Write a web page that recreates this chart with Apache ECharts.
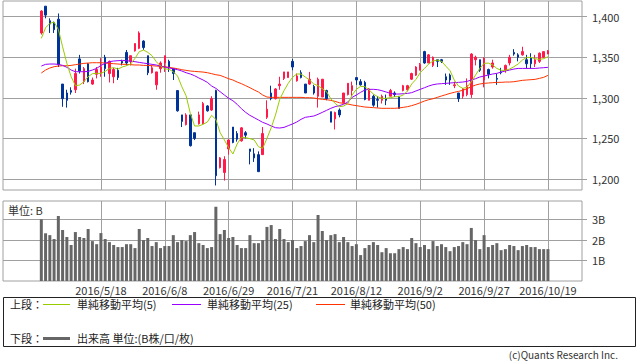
<!DOCTYPE html>
<html><head><meta charset="utf-8">
<script src="https://cdn.jsdelivr.net/npm/echarts/dist/echarts.min.js"></script>
<style>html,body{margin:0;padding:0;background:#fff}#c{width:638px;height:362px}</style>
</head><body><div id="c"></div>
<script>
const dates = ['2016/4/22','2016/4/25','2016/4/26','2016/4/27','2016/4/28',
'2016/5/2','2016/5/6','2016/5/9','2016/5/10','2016/5/11','2016/5/12','2016/5/13','2016/5/16','2016/5/17','2016/5/18','2016/5/19','2016/5/20','2016/5/23','2016/5/24','2016/5/25','2016/5/26','2016/5/27','2016/5/30','2016/5/31',
'2016/6/1','2016/6/2','2016/6/3','2016/6/6','2016/6/7','2016/6/8','2016/6/9','2016/6/10','2016/6/13','2016/6/14','2016/6/15','2016/6/16','2016/6/17','2016/6/20','2016/6/21','2016/6/22','2016/6/23','2016/6/24','2016/6/27','2016/6/28','2016/6/29','2016/6/30',
'2016/7/1','2016/7/4','2016/7/5','2016/7/6','2016/7/7','2016/7/8','2016/7/11','2016/7/12','2016/7/13','2016/7/14','2016/7/15','2016/7/19','2016/7/20','2016/7/21','2016/7/22','2016/7/25','2016/7/26','2016/7/27','2016/7/28','2016/7/29',
'2016/8/1','2016/8/2','2016/8/3','2016/8/4','2016/8/5','2016/8/8','2016/8/9','2016/8/10','2016/8/12','2016/8/15','2016/8/16','2016/8/17','2016/8/18','2016/8/19','2016/8/22','2016/8/23','2016/8/24','2016/8/25','2016/8/26','2016/8/29','2016/8/30','2016/8/31',
'2016/9/1','2016/9/2','2016/9/5','2016/9/6','2016/9/7','2016/9/8','2016/9/9','2016/9/12','2016/9/13','2016/9/14','2016/9/15','2016/9/16','2016/9/20','2016/9/21','2016/9/23','2016/9/26','2016/9/27','2016/9/28','2016/9/29','2016/9/30',
'2016/10/3','2016/10/4','2016/10/5','2016/10/6','2016/10/7','2016/10/11','2016/10/12','2016/10/13','2016/10/14','2016/10/17','2016/10/18','2016/10/19'];

const open = [1380,1413,1395,1393,1397,1317,1306,1309,1310,1348,1320,1342,1317,1329,1331,1350,1330,1326,1334,1345,
1356,1345,1358,1361,1370,1352,1331,1316,1336,1343,1345,1336,1309,1279,1267,1279,1257,1268,1268,1290,
1285,1309,1214,1208,1237,1264,1256,1247,1257,1237,1231,1230,1230,1276,1306,1299,1315,1324,1325,1345,
1321,1331,1317,1317,1314,1302,1301,1309,1283,1274,1285,1294,1304,1309,1325,1320,1319,1297,1302,1298,
1297,1299,1302,1306,1302,1309,1310,1323,1328,1334,1357,1343,1340,1347,1347,1326,1328,1315,1306,1302,
1304,1304,1347,1347,1322,1335,1338,1324,1332,1334,1343,1356,1353,1353,1347,1349,1342,1345,1350,1354];
const close = [1407,1402,1391,1384,1341,1299,1297,1307,1330,1333,1336,1320,1322,1335,1338,1336,1345,1335,1325,1343,
1343,1352,1367,1380,1362,1331,1337,1332,1343,1352,1338,1330,1284,1271,1279,1241,1250,1279,1293,1284,
1299,1204,1226,1224,1248,1245,1249,1263,1254,1234,1226,1209,1256,1286,1299,1311,1317,1332,1332,1338,
1327,1325,1306,1323,1306,1323,1323,1299,1270,1282,1279,1306,1318,1315,1322,1316,1298,1311,1291,1297,
1302,1297,1309,1304,1287,1315,1315,1330,1338,1341,1343,1353,1350,1345,1345,1322,1322,1316,1299,1311,
1315,1354,1350,1334,1349,1329,1343,1323,1331,1340,1350,1354,1350,1357,1342,1342,1347,1355,1357,1358];
const low = [1378,1398,1380,1380,1338,1289,1288,1304,1306,1330,1317,1319,1316,1324,1326,1326,1319,1318,1322,1340,
1340,1340,1357,1360,1359,1328,1330,1310,1331,1332,1332,1322,1283,1264,1266,1240,1248,1267,1267,1283,
1284,1192,1213,1198,1230,1244,1246,1246,1250,1218,1221,1209,1230,1274,1297,1298,1310,1322,1325,1334,
1320,1324,1306,1316,1304,1288,1301,1297,1270,1261,1276,1293,1303,1302,1316,1315,1297,1297,1289,1288,
1293,1291,1302,1301,1287,1308,1308,1322,1327,1334,1342,1343,1338,1338,1343,1316,1316,1312,1295,1299,
1302,1300,1340,1332,1313,1324,1336,1316,1329,1331,1340,1352,1345,1352,1336,1336,1338,1343,1349,1354];
const high = [1408,1413,1398,1394,1404,1317,1310,1313,1336,1353,1338,1343,1325,1338,1349,1353,1346,1337,1337,1347,
1359,1352,1367,1382,1371,1352,1340,1332,1345,1352,1347,1336,1309,1279,1281,1279,1257,1283,1295,1291,
1302,1310,1227,1228,1249,1264,1259,1264,1259,1237,1238,1234,1264,1297,1315,1312,1326,1332,1332,1348,
1330,1334,1317,1332,1316,1325,1323,1310,1283,1283,1287,1306,1318,1320,1325,1323,1321,1312,1304,1302,
1304,1304,1311,1308,1302,1316,1316,1331,1339,1343,1358,1354,1351,1347,1348,1330,1330,1320,1306,1312,
1324,1355,1352,1347,1350,1336,1347,1330,1337,1341,1353,1360,1355,1363,1353,1355,1353,1356,1357,1359];

const ma5 = [1373.3,1386.4,1391.8,1393.4,1384.4,1363,1342.5,1326.1,1315,1315.8,1319.9,1326.1,1329.8,1330.2,1330.2,1332.6,1336.3,1337.2,1335.5,1338,
1339.6,1341.7,1348.7,1356.9,1358.9,1356.1,1352,1344.6,1339.2,1335.9,1335.1,1332.2,1326.9,1313.8,1302.7,1280.9,1265.3,1265.3,1267.4,1270.2,
1278.4,1273.5,1257.1,1248.1,1238.6,1230.8,1243.1,1251.3,1250.9,1249.7,1248.1,1239.8,1237.8,1250.1,1263.2,1278.8,1298.1,1308.8,1317.9,1325.3,
1329.4,1329.4,1325.7,1322,1317.1,1315,1311.3,1307.6,1299,1293.2,1289.1,1289.9,1292.8,1303.5,1310.5,1314.2,1313.8,1309.7,1304.7,1301.4,
1299.4,1299.4,1300.2,1301.4,1301.4,1303.5,1308.4,1317.1,1322.8,1331,1336.3,1341.7,1345.4,1346.6,1345,1339.2,1333.5,1322,1314.6,1311.7,
1313,1319.9,1328.1,1336.3,1342.5,1342.9,1340.5,1336.3,1333.9,1333.9,1335.5,1338.4,1341.7,1346.6,1349.9,1349.9,1348.3,1347.4,1348.3,1350.7];
const ma25 = [1339.2,1341.3,1341.7,1341.7,1341.3,1340,1337.6,1334.3,1332.2,1332.2,1332.2,1332.6,1334.3,1336.3,1340,1342.5,1344.6,1345.4,1345.8,1346.2,
1345.8,1345.2,1344.6,1343.7,1342.9,1342.1,1341.3,1340.5,1339.2,1338,1336.8,1335.9,1334.7,1333.1,1331,1329.4,1327.3,1324.5,1322,1319.1,
1314.6,1311.7,1307.6,1303.5,1299.5,1296.5,1292,1286.6,1282.1,1278.4,1275.6,1272.7,1269.8,1267.8,1265.3,1263.2,1262.8,1263.6,1265.7,1267.8,
1270.2,1273.5,1276,1276.8,1277.6,1279.7,1282.1,1284.6,1287.1,1289.1,1290.4,1292,1294.9,1300.6,1303.5,1306.8,1309.7,1310.5,1310.5,1310.1,
1308.8,1307.2,1305.5,1304.7,1304.7,1305.1,1305.5,1306.4,1308.5,1310.5,1312.5,1314.6,1316.2,1317.1,1317.5,1317.9,1318.3,1318.7,1319.1,1319.5,
1320.3,1322,1323.6,1325.7,1326.9,1328.1,1329.4,1330.2,1331.8,1333.1,1334.3,1335.5,1336.3,1336.3,1336.3,1336.3,1336.3,1336.8,1337.2,1337.6];
const ma50 = [1330.6,1334.3,1336.8,1338.4,1339.2,1339.6,1339.6,1340,1340.9,1341.7,1342.5,1342.9,1343.3,1343.3,1343.3,1342.9,1342.5,1342.1,1341.7,1341.3,
1341.3,1340.9,1340.5,1340.5,1340,1340,1339.6,1339.2,1338.8,1338.4,1337.6,1336.8,1335.9,1334.7,1333.9,1333.1,1332.6,1332.2,1331.8,1331,
1329.8,1328.5,1327.7,1325.7,1323.6,1322,1319.5,1317.5,1315,1312.5,1309.7,1307.2,1303.5,1301,1300.6,1300.6,1300.6,1300.6,1300.6,1300.6,
1300.6,1300.6,1300.2,1300.2,1299.8,1298.9,1298.2,1297.7,1296.9,1295.7,1294,1293.2,1292.4,1291.2,1290.4,1289.5,1288.7,1288.3,1287.9,1287.5,
1287.1,1287.1,1287.1,1287.1,1287.5,1288.3,1289.1,1290.4,1292,1294,1296.1,1297.7,1298.9,1300.6,1302.3,1303.9,1305.5,1306.8,1308,1309.3,
1311.3,1313.8,1315.8,1317.1,1317.9,1318.3,1318.7,1319.1,1319.1,1319.5,1319.5,1319.9,1320.7,1321.6,1322,1322.4,1322.8,1324,1325.3,1327.7];

const volume = [3.0,2.32,2.23,2.04,3.16,2.48,2.14,1.75,2.38,2.14,2.09,2.53,1.94,1.79,2.33,2.04,1.89,1.75,1.65,1.65,
1.79,1.79,1.60,2.53,1.99,2.09,1.70,1.89,1.60,1.70,1.70,2.23,1.89,1.99,1.94,2.23,2.38,1.84,1.75,1.60,
1.65,3.61,2.28,2.48,2.09,2.14,1.75,1.60,1.60,2.23,1.84,1.84,1.99,2.63,2.72,2.04,2.53,2.04,1.89,1.99,
1.60,1.70,1.94,2.23,1.89,3.21,2.43,1.99,2.23,2.28,1.89,2.14,1.89,1.70,1.79,1.26,1.60,1.75,1.89,1.75,
1.40,1.60,1.35,1.35,1.55,1.65,1.55,2.09,1.84,1.65,1.75,1.55,1.94,1.70,1.79,1.65,1.45,1.65,1.70,1.89,
1.79,2.58,1.99,1.55,2.23,1.65,1.75,1.84,1.50,1.55,1.75,1.70,1.50,1.70,1.75,1.65,1.65,1.55,1.55,1.55];

const priceTicks = [1200,1250,1300,1350,1400];
const volumeTicks = [1,2,3];
const labelDates = ['2016/5/18','2016/6/8','2016/6/29','2016/7/21','2016/8/12','2016/9/2','2016/9/27','2016/10/19'];

const PAD_L = 9, PAD_R = 8;
const cats = [];
for (let k = 0; k < PAD_L; k++) cats.push('L' + k);
dates.forEach(d => cats.push(d));
for (let k = 0; k < PAD_R; k++) cats.push('R' + k);
const pad = arr => Array(PAD_L).fill('-').concat(arr, Array(PAD_R).fill('-'));
const isLabel = (idx) => labelDates.indexOf(cats[idx]) >= 0;

const ohlc = dates.map((d, i) => [open[i], close[i], low[i], high[i]]);
const FONT = '"Noto Sans CJK JP", "Liberation Sans", sans-serif';
const RED = '#ff1a4a', BLUE = '#003399', GRID = '#a0a0a0';

const chart = echarts.init(document.getElementById('c'), null, {renderer: 'svg'});
const xCommon = {
  type: 'category', data: cats, boundaryGap: false,
  axisLine: {show: false}, axisTick: {show: false},
  splitLine: {show: true, interval: (i) => isLabel(i), lineStyle: {color: GRID, width: 1}}
};
chart.setOption({
  animation: false,
  backgroundColor: '#fff',
  textStyle: {fontFamily: FONT},
  grid: [
    {left: 3, right: 56, top: 1, height: 189, show: true, borderColor: GRID, borderWidth: 1, backgroundColor: 'transparent'},
    {left: 3, right: 56, top: 201, height: 80, show: true, borderColor: GRID, borderWidth: 1, backgroundColor: 'transparent'}
  ],
  xAxis: [
    Object.assign({gridIndex: 0, axisLabel: {show: false}}, xCommon),
    Object.assign({gridIndex: 1, axisLabel: {show: true, interval: (i) => isLabel(i), margin: 3, fontSize: 11, color: '#333', fontFamily: FONT}}, xCommon)
  ],
  yAxis: [
    {gridIndex: 0, type: 'value', position: 'right', min: 1186.4, max: 1419.4,
     axisLine: {show: false},
     axisTick: {show: true, customValues: priceTicks, length: 5, lineStyle: {color: GRID}},
     axisLabel: {customValues: priceTicks, margin: 10, fontSize: 11, color: '#333', fontFamily: FONT,
       formatter: v => v.toLocaleString('en-US')},
     splitLine: {show: true, lineStyle: {color: GRID, width: 1}}},
    {gridIndex: 1, type: 'value', position: 'right', min: 0, max: 3.89,
     axisLine: {show: false},
     axisTick: {show: true, customValues: volumeTicks, length: 5, lineStyle: {color: GRID}},
     axisLabel: {customValues: volumeTicks, margin: 10, fontSize: 11, color: '#333', fontFamily: FONT,
       formatter: v => v + 'B'},
     splitLine: {show: true, lineStyle: {color: GRID, width: 1}}}
  ],
  series: [
    {type: 'candlestick', xAxisIndex: 0, yAxisIndex: 0, data: pad(ohlc), barWidth: 2, clip: false,
     itemStyle: {color: RED, color0: BLUE, borderColor: RED, borderColor0: BLUE, borderWidth: 1}},
    {type: 'line', xAxisIndex: 0, yAxisIndex: 0, data: pad(ma50), symbol: 'none', clip: false,
     lineStyle: {color: '#ff3300', width: 1}, z: 3},
    {type: 'line', xAxisIndex: 0, yAxisIndex: 0, data: pad(ma25), symbol: 'none', clip: false,
     lineStyle: {color: '#9900ff', width: 1}, z: 3},
    {type: 'line', xAxisIndex: 0, yAxisIndex: 0, data: pad(ma5), symbol: 'none', clip: false,
     lineStyle: {color: '#99cc00', width: 1}, z: 3},
    {type: 'bar', xAxisIndex: 1, yAxisIndex: 1, data: pad(volume), barWidth: 3,
     itemStyle: {color: '#666666'}}
  ],
  graphic: [
    {type: 'text', left: 8, top: 204, style: {text: '単位: B', fontSize: 11, fill: '#333', fontFamily: FONT}},
    {type: 'rect', shape: {x: 3.5, y: 297.5, width: 632, height: 49}, style: {fill: 'none', stroke: '#222', lineWidth: 1}},
    {type: 'text', x: 10, y: 304, style: {text: '上段：', fontSize: 11, fill: '#222', fontFamily: FONT, verticalAlign: 'middle'}},
    {type: 'line', shape: {x1: 43, y1: 304.5, x2: 70, y2: 304.5}, style: {stroke: '#99cc00', lineWidth: 1}},
    {type: 'text', x: 77, y: 304, style: {text: '単純移動平均(5)', fontSize: 11, fill: '#222', fontFamily: FONT, verticalAlign: 'middle'}},
    {type: 'line', shape: {x1: 172, y1: 304.5, x2: 201, y2: 304.5}, style: {stroke: '#9900ff', lineWidth: 1}},
    {type: 'text', x: 207, y: 304, style: {text: '単純移動平均(25)', fontSize: 11, fill: '#222', fontFamily: FONT, verticalAlign: 'middle'}},
    {type: 'line', shape: {x1: 316, y1: 304.5, x2: 345, y2: 304.5}, style: {stroke: '#ff3300', lineWidth: 1}},
    {type: 'text', x: 350, y: 304, style: {text: '単純移動平均(50)', fontSize: 11, fill: '#222', fontFamily: FONT, verticalAlign: 'middle'}},
    {type: 'text', x: 10, y: 338, style: {text: '下段：', fontSize: 11, fill: '#222', fontFamily: FONT, verticalAlign: 'middle'}},
    {type: 'line', shape: {x1: 43, y1: 338.5, x2: 70, y2: 338.5}, style: {stroke: '#666666', lineWidth: 3}},
    {type: 'text', x: 77, y: 338, style: {text: '出来高 単位:(B株/口/枚)', fontSize: 11, fill: '#222', fontFamily: FONT, verticalAlign: 'middle'}},
    {type: 'text', x: 618, y: 354, style: {text: '(c)Quants Research Inc.', fontSize: 10, fill: '#333', fontFamily: FONT, align: 'right', verticalAlign: 'middle'}}
  ]
});
</script></body></html>
